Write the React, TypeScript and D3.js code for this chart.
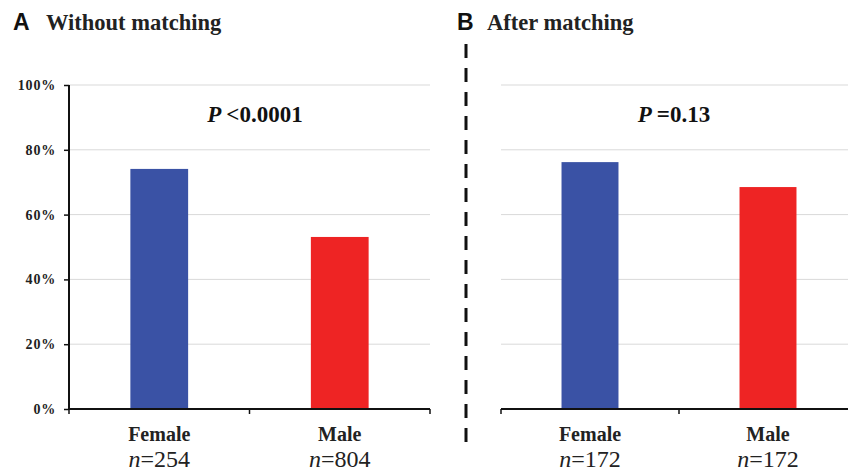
import React, { useEffect, useRef } from "react";
import * as d3 from "d3";

const categories = ["Female", "Male"];
const withoutMatching = [74.1, 53.1];
const afterMatching = [76.2, 68.5];
const nWithout = [254, 804];
const nAfter = [172, 172];
const yTicks = [0, 20, 40, 60, 80, 100];
const colors = ["#3a52a5", "#ee2424"];

const serif = "'Liberation Serif', 'Times New Roman', serif";
const sans = "'Liberation Sans', Arial, sans-serif";

export default function App() {
  const ref = useRef<SVGSVGElement>(null);

  useEffect(() => {
    const svg = d3.select(ref.current);
    svg.selectAll("*").remove();

    const y = d3.scaleLinear().domain([0, 100]).range([409, 85]);

    const panels = [
      { letter: "A", title: "Without matching", lx: 13, tx: 46, x0: 69, x1: 430, data: withoutMatching, n: nWithout, p: "<0.0001", px: 255, yAxis: true },
      { letter: "B", title: "After matching", lx: 457, tx: 487, x0: 501, x1: 857, data: afterMatching, n: nAfter, p: "=0.13", px: 674, yAxis: false },
    ];

    panels.forEach((pn) => {
      const g = svg.append("g");
      const x = d3.scaleBand().domain(categories).range([pn.x0, pn.x1]);

      // title
      g.append("text").attr("x", pn.lx).attr("y", 30).attr("font-family", sans)
        .attr("font-weight", "bold").attr("font-size", 23).attr("fill", "#111").text(pn.letter);
      g.append("text").attr("x", pn.tx).attr("y", 30).attr("font-family", serif)
        .attr("font-weight", "bold").attr("font-size", 22.5).attr("fill", "#222").text(pn.title);

      // gridlines
      g.selectAll(".grid").data(yTicks.filter((t) => t > 0)).join("line")
        .attr("x1", pn.x0).attr("x2", pn.x1)
        .attr("y1", (d) => y(d)).attr("y2", (d) => y(d))
        .attr("stroke", "#d9d9d9").attr("stroke-width", 1);

      // bars
      const bw = x.bandwidth() * 0.32;
      g.selectAll(".bar").data(pn.data).join("rect")
        .attr("x", (d, i) => x(categories[i])! + x.bandwidth() / 2 - bw / 2)
        .attr("y", (d) => y(d))
        .attr("width", bw)
        .attr("height", (d) => y(0) - y(d))
        .attr("fill", (d, i) => colors[i]);

      // y axis
      if (pn.yAxis) {
        const ya = g.append("g").attr("transform", `translate(${pn.x0},0)`)
          .call(d3.axisLeft(y).tickValues(yTicks).tickSize(5).tickFormat((d) => `${d}%`));
        ya.select(".domain").attr("stroke", "#111").attr("stroke-width", 2).attr("d", `M0,${y(100)}V${y(0)}`);
        ya.selectAll(".tick line").attr("stroke", "#111").attr("stroke-width", 1.5);
        ya.selectAll(".tick text").attr("font-family", serif).attr("font-weight", "bold")
          .attr("font-size", 14).attr("letter-spacing", 0.8).attr("fill", "#222").attr("x", -13);
      }

      // x axis
      g.append("line").attr("x1", pn.x0).attr("x2", pn.x1).attr("y1", y(0)).attr("y2", y(0))
        .attr("stroke", "#111").attr("stroke-width", 2);
      const ticks = [pn.x0, pn.x0 + x.step(), pn.x1];
      g.selectAll(".xt").data(ticks).join("line")
        .attr("x1", (d) => d).attr("x2", (d) => d)
        .attr("y1", y(0)).attr("y2", y(0) + 5)
        .attr("stroke", "#111").attr("stroke-width", 1.5);

      // x labels
      categories.forEach((c, i) => {
        const cx = x(c)! + x.bandwidth() / 2;
        g.append("text").attr("x", cx).attr("y", 441).attr("text-anchor", "middle")
          .attr("font-family", serif).attr("font-weight", "bold").attr("font-size", 20)
          .attr("fill", "#222").text(c);
        const t = g.append("text").attr("x", cx).attr("y", 467).attr("text-anchor", "middle")
          .attr("font-family", serif).attr("font-size", 24).attr("fill", "#222");
        t.append("tspan").attr("font-style", "italic").text("n");
        t.append("tspan").text(`=${pn.n[i]}`);
      });

      // P value
      const pt = g.append("text").attr("x", pn.px).attr("y", 122).attr("text-anchor", "middle")
        .attr("font-family", serif).attr("font-weight", "bold").attr("font-size", 23).attr("fill", "#111");
      pt.append("tspan").attr("font-style", "italic").text("P ");
      pt.append("tspan").text(pn.p);
    });

    // separator
    svg.append("line").attr("x1", 466).attr("x2", 466).attr("y1", 44).attr("y2", 445)
      .attr("stroke", "#111").attr("stroke-width", 3).attr("stroke-dasharray", "14,10");
  }, []);

  return (
    <svg ref={ref} width={848} height={472}
      style={{ position: "absolute", left: 0, top: 0, background: "#fff" }} />
  );
}
